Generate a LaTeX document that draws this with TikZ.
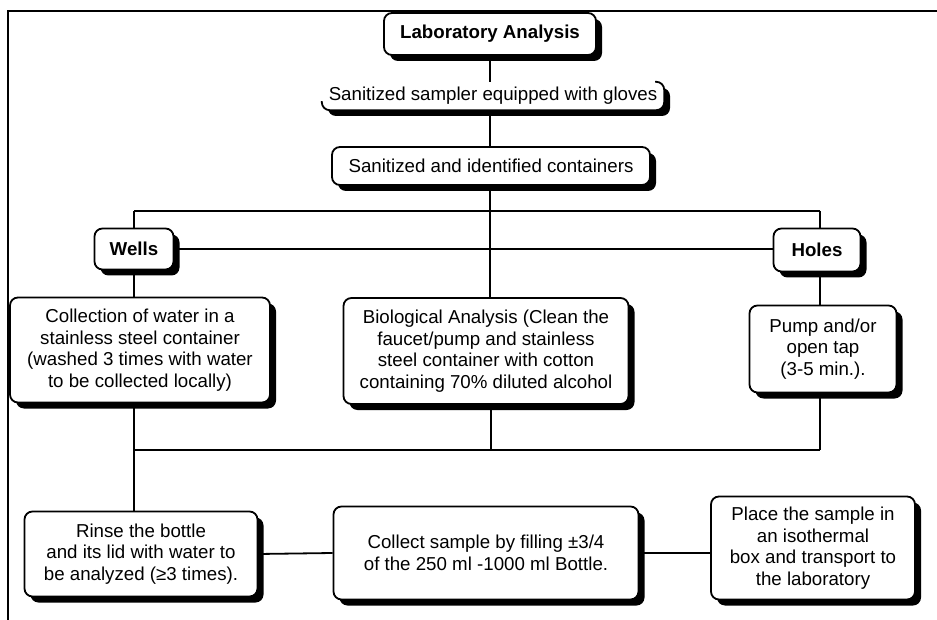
\documentclass[tikz,border=0pt]{standalone}
\usepackage{fontspec}
\setmainfont{Liberation Sans}
\usetikzlibrary{shadows,calc}
\begin{document}
\begin{tikzpicture}[x=1pt,y=1pt,
 shadowed/.style={rounded corners=8pt, fill=white, align=center, inner sep=0pt,
   font=\fontsize{18.7}{21.5}\selectfont,
   drop shadow={shadow xshift=6pt, shadow yshift=-6pt, opacity=1, fill=black}},
 box/.style={shadowed, draw, line width=1.8pt},
 boldtext/.style={font=\fontsize{18.7}{21.5}\selectfont\bfseries},
 conn/.style={line width=1.8pt},
 frameline/.style={line width=2pt}]
\useasboundingbox (0,0) rectangle (937,-620);
\draw[frameline] (8,-620) -- (8,-11) -- (937,-11);

% nodes
\node[box, boldtext, minimum width=212pt, minimum height=42pt] (lab) at (490,-34) {Laboratory Analysis};
\node[shadowed, minimum width=342pt, minimum height=28pt] (sampler) at (493,-96) {Sanitized sampler equipped with gloves};
\draw[conn, rounded corners=8pt] ($(sampler.south west)+(0,9)$) |- (sampler.south east) |- ($(sampler.north east)+(-9,0)$);
\node[box, minimum width=318pt, minimum height=38pt] (cont) at (491,-166) {Sanitized and identified containers};

\node[box, boldtext, minimum width=79pt, minimum height=41pt] (wells) at (134,-249) {Wells};
\node[box, boldtext, minimum width=87pt, minimum height=43pt] (holes) at (817,-250) {Holes};

\node[box, minimum width=260pt, minimum height=105pt] (coll) at (140,-350) {Collection of water in a\\stainless steel container\\(washed 3 times with water\\to be collected locally)};
\node[box, minimum width=285pt, minimum height=106pt] (bio) at (486,-351) {Biological Analysis (Clean the\\faucet/pump and stainless\\steel container with cotton\\containing 70\% diluted alcohol};
\node[box, minimum width=147pt, minimum height=87pt] (pump) at (823,-349) {Pump and/or\\open tap\\(3-5 min.).};

\node[box, minimum width=233pt, minimum height=85pt] (rinse) at (141,-554) {Rinse the bottle\\and its lid with water to\\be analyzed (≥3 times).};
\node[box, minimum width=305pt, minimum height=93pt] (collect) at (486,-553) {Collect sample by filling ±3/4\\of the 250 ml -1000 ml Bottle.};
\node[box, minimum width=204pt, minimum height=103pt] (place) at (813,-548) {Place the sample in\\an isothermal\\box and transport to\\the laboratory};

% coordinates
\coordinate (tl) at (134,-211);
\coordinate (tm) at (490,-211);
\coordinate (tr) at (820,-211);
\coordinate (bl) at (134,-450);
\coordinate (bm) at (491,-450);
\coordinate (br) at (820,-450);

% connectors
\draw[conn] (lab.south -| tm) -- (sampler.north -| tm);
\draw[conn] (sampler.south -| tm) -- (cont.north -| tm);
\draw[conn] (cont.south -| tm) -- (tm);
\draw[conn] (tl) -- (tr);
\draw[conn] (tl) -- (wells.north -| tl);
\draw[conn] (tr) -- (holes.north -| tr);
\draw[conn] (tm) -- (bio.north -| tm);
\draw[conn] (wells.east) -- (wells.east -| holes.west);
\draw[conn] (wells.south -| tl) -- (coll.north -| tl);
\draw[conn] (holes.south -| tr) -- (pump.north -| tr);
\draw[conn] (bl) -- (br);
\draw[conn] (coll.south -| bl) -- (rinse.north -| bl);
\draw[conn] (bio.south -| bm) -- (bm);
\draw[conn] (pump.south -| br) -- (br);
\draw[conn] (rinse.east) -- (collect.west);
\draw[conn] (collect.east) -- (collect.east -| place.west);
\end{tikzpicture}
\end{document}
